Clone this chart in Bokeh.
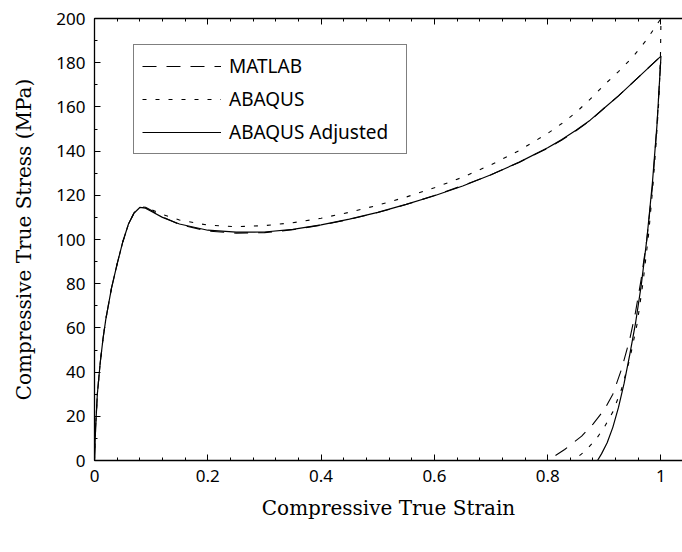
from bokeh.plotting import figure
from bokeh.models import Range1d, FixedTicker, Legend, LegendItem, LinearAxis
from bokeh.embed import file_html
from bokeh.resources import INLINE

# ---------------- data ----------------
strain_load = [0, 0.002, 0.005, 0.01, 0.015, 0.02, 0.03, 0.04, 0.05, 0.06, 0.07, 0.08,
               0.09, 0.1, 0.12, 0.15, 0.2, 0.25, 0.3, 0.35, 0.4, 0.45, 0.5, 0.55, 0.6,
               0.65, 0.7, 0.75, 0.8, 0.825, 0.85, 0.875, 0.9, 0.925, 0.95, 0.975, 1.0]

matlab_load = [0, 15, 30, 44, 55, 64, 78, 89, 99, 107, 112.2, 114.8, 114.6, 113.2, 110.2,
               106.8, 103.8, 102.9, 103.1, 104.4, 106.5, 109.1, 112.2, 115.8, 119.9, 124.4,
               129.3, 135, 141.3, 145, 149.2, 153.8, 159.5, 165, 171, 177, 183]
abaqus_load = [0, 15, 30, 44, 55, 64, 78, 89, 99, 107, 112, 114.5, 114.5, 113.6, 111.3,
               108.8, 106.5, 105.8, 106.3, 107.6, 109.6, 112.3, 115.5, 119.2, 123.4, 128.2,
               133.8, 140.3, 148, 152.5, 157.5, 163.5, 170, 176, 182.5, 190.5, 200]
adjusted_load = [0, 15, 30, 44, 55, 64, 78, 89, 99, 107, 112, 114.5, 114.2, 112.8, 110,
                 107, 104.2, 103.3, 103.4, 104.6, 106.6, 109.2, 112.3, 115.9, 119.8, 124.2,
                 129.3, 135, 141.5, 145.2, 149.4, 154, 159.5, 165, 171, 177, 183]

matlab_unload_strain = [0.993, 0.985, 0.975, 0.965, 0.955, 0.945, 0.93, 0.915, 0.9, 0.88,
                        0.86, 0.83, 0.8]
matlab_unload_stress = [152, 124, 100, 82, 67, 55, 41, 30, 23, 16.5, 11, 5, 0]

abaqus_unload_strain = [0.999, 0.996, 0.991, 0.985, 0.978, 0.968, 0.958, 0.945, 0.93, 0.915,
                        0.9, 0.885, 0.865, 0.845]
abaqus_unload_stress = [181, 162, 142, 122, 102, 80, 62, 46, 32, 22, 15, 9.5, 4, 0]

adjusted_unload_strain = [0.993, 0.985, 0.975, 0.965, 0.955, 0.945, 0.935, 0.925, 0.915,
                          0.905, 0.895, 0.888]
adjusted_unload_stress = [152, 126, 100, 79, 62, 48, 35, 24, 15, 8, 3, 0]

series_names = ["MATLAB", "ABAQUS", "ABAQUS Adjusted"]

x_ticks = [0, 0.2, 0.4, 0.6, 0.8, 1.0]
x_tick_labels = ["0", "0.2", "0.4", "0.6", "0.8", "1"]
x_minor_ticks = [round(i * 0.04, 2) for i in range(27)]
y_ticks = [0, 20, 40, 60, 80, 100, 120, 140, 160, 180, 200]
y_tick_labels = ["0", "20", "40", "60", "80", "100", "120", "140", "160", "180", "200"]
y_minor_ticks = [i * 10 for i in range(21)]

x_label = "Compressive True Strain"
y_label = "Compressive True Stress (MPa)"

# ---------------- figure ----------------
SANS = "Noto Sans"
SERIF = "DejaVu Serif"

p = figure(width=682, height=552, output_backend="svg", toolbar_location=None,
           x_range=Range1d(0, 1.038), y_range=Range1d(0, 200),
           min_border_left=94, min_border_right=0, min_border_top=18,
           min_border_bottom=92, x_axis_type=None, y_axis_type=None)
p.outline_line_color = None
p.background_fill_color = "white"
p.border_fill_color = "white"


def style_axis(ax, ticks, minor, labels, show_labels=True):
    ax.ticker = FixedTicker(ticks=ticks, minor_ticks=minor)
    ax.major_label_overrides = dict(zip(ticks, labels))
    ax.major_tick_in = 6
    ax.major_tick_out = 0
    ax.minor_tick_in = 3
    ax.minor_tick_out = 0
    ax.axis_line_color = "black"
    ax.axis_line_width = 1.3
    ax.major_tick_line_width = 1
    ax.minor_tick_line_width = 1
    ax.major_label_text_font = SANS
    if show_labels:
        ax.major_label_text_color = "black"
        ax.major_label_text_font_size = "17px"
    else:
        ax.major_label_text_color = None
        ax.major_label_text_font_size = "1px"
        ax.major_label_standoff = 0


xaxis = LinearAxis()
style_axis(xaxis, x_ticks, x_minor_ticks, x_tick_labels)
xaxis.major_label_standoff = 9
xaxis.axis_label = x_label
xaxis.axis_label_text_font = SERIF
xaxis.axis_label_text_font_style = "normal"
xaxis.axis_label_text_font_size = "20px"
xaxis.axis_label_text_color = "black"
xaxis.axis_label_standoff = 11
p.add_layout(xaxis, "below")

top_axis = LinearAxis()
style_axis(top_axis, x_ticks, x_minor_ticks, x_tick_labels, show_labels=False)
p.add_layout(top_axis, "above")

yaxis = LinearAxis()
style_axis(yaxis, y_ticks, y_minor_ticks, y_tick_labels)
yaxis.major_label_standoff = 9
yaxis.axis_label = y_label
yaxis.axis_label_text_font = SERIF
yaxis.axis_label_text_font_style = "normal"
yaxis.axis_label_text_font_size = "20px"
yaxis.axis_label_text_color = "black"
yaxis.axis_label_standoff = 17
p.add_layout(yaxis, "left")

# curves: loading branch followed by unloading branch
mx = strain_load + matlab_unload_strain
my = matlab_load + matlab_unload_stress
ax_ = strain_load + abaqus_unload_strain
ay = abaqus_load + abaqus_unload_stress
jx = strain_load + adjusted_unload_strain
jy = adjusted_load + adjusted_unload_stress

r_m = p.line(mx, my, line_color="black", line_width=1.1, line_dash="14 10")
r_a = p.line(ax_, ay, line_color="black", line_width=1.1, line_dash="4 9")
r_j = p.line(jx, jy, line_color="black", line_width=1.2)

legend = Legend(items=[LegendItem(label=series_names[0], renderers=[r_m]),
                       LegendItem(label=series_names[1], renderers=[r_a]),
                       LegendItem(label=series_names[2], renderers=[r_j])],
                location=(39, 306))
legend.label_text_font = SANS
legend.label_text_font_size = "19px"
legend.label_text_line_height = 1.0
legend.label_text_color = "black"
legend.glyph_width = 79
legend.glyph_height = 20
legend.label_height = 20
legend.label_width = 169
legend.label_standoff = 8
legend.padding = 8
legend.spacing = 7
legend.margin = 0
legend.border_line_color = "black"
legend.border_line_width = 1.2
legend.background_fill_alpha = 1
p.add_layout(legend, "center")

open("out.html", "w").write(file_html(p, INLINE))
